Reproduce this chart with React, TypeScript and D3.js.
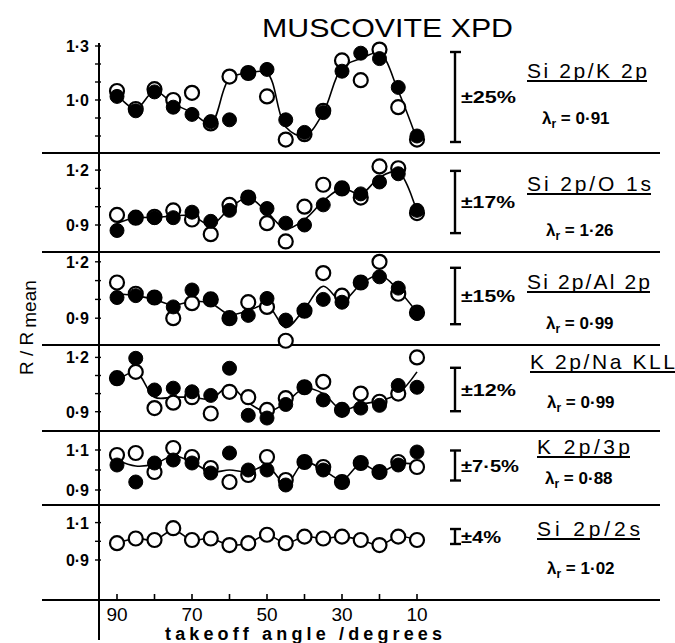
import React from "react";
import * as d3 from "d3";

const ANGLES = [90, 85, 80, 75, 70, 65, 60, 55, 50, 45, 40, 35, 30, 25, 20, 15, 10];
const X_TICKS = [90, 80, 70, 60, 50, 40, 30, 20, 10];
const X_LABELS = [90, 70, 50, 30, 10];

const P1_FILLED = [1.02, 0.94, 1.045, 0.96, 0.92, 0.88, 0.89, 1.15, 1.17, 0.89, 0.82, 0.93, 1.16, 1.26, 1.23, 1.07, 0.8];
const P1_OPEN = [1.05, 0.95, 1.06, 1.0, 1.04, 0.87, 1.13, 1.15, 1.02, 0.78, 0.81, 0.94, 1.22, 1.11, 1.28, 0.96, 0.78];
const P1_LINE = [1.03, 0.95, 1.05, 0.98, 0.93, 0.87, 1.12, 1.15, 1.15, 0.85, 0.8, 0.93, 1.18, 1.23, 1.26, 1.05, 0.78];

const P2_FILLED = [0.87, 0.94, 0.94, 0.94, 0.97, 0.92, 0.98, 1.05, 0.99, 0.91, 0.9, 1.01, 1.1, 1.07, 1.135, 1.18, 0.98];
const P2_OPEN = [0.955, 0.94, 0.945, 0.98, 0.93, 0.85, 1.01, 1.05, 0.91, 0.81, 1.0, 1.12, 1.1, 1.05, 1.22, 1.21, 0.965];
const P2_LINE = [0.91, 0.94, 0.94, 0.95, 0.95, 0.9, 0.99, 1.05, 0.97, 0.88, 0.93, 1.03, 1.1, 1.07, 1.16, 1.19, 0.97];

const P3_FILLED = [1.01, 1.02, 1.01, 0.96, 1.05, 1.0, 0.9, 0.915, 1.005, 0.89, 0.94, 1.0, 0.985, 1.09, 1.12, 1.06, 0.925];
const P3_OPEN = [1.09, 1.03, 1.01, 0.9, 0.98, 1.0, 0.9, 0.985, 0.96, 0.78, 0.94, 1.14, 1.02, 1.09, 1.2, 1.03, 0.93];
const P3_LINE = [1.03, 1.02, 1.0, 0.97, 0.99, 0.98, 0.92, 0.94, 0.97, 0.85, 0.95, 1.07, 0.99, 1.08, 1.13, 1.05, 0.93];

const P4_FILLED = [1.085, 1.195, 1.02, 1.03, 1.01, 0.99, 1.14, 0.88, 0.865, 0.94, 1.035, 0.965, 0.91, 0.92, 0.935, 1.045, 1.035];
const P4_OPEN = [1.085, 1.12, 0.92, 0.95, 0.98, 0.89, 1.01, 0.98, 0.91, 0.975, 1.035, 1.065, 0.91, 1.0, 0.955, 1.0, 1.2];
const P4_LINE = [1.07, 1.12, 0.98, 0.98, 0.98, 0.97, 1.04, 0.95, 0.9, 0.95, 1.03, 1.0, 0.91, 0.94, 0.96, 1.0, 1.12];

const P5_FILLED = [1.025, 0.94, 1.035, 1.05, 1.035, 0.985, 1.085, 1.0, 1.0, 0.925, 1.04, 1.0, 0.94, 1.035, 0.99, 1.025, 1.09];
const P5_OPEN = [1.075, 1.085, 0.99, 1.11, 1.065, 1.01, 0.94, 0.975, 1.065, 0.95, 1.04, 1.015, 0.94, 1.035, 0.99, 1.04, 1.015];
const P5_LINE = [1.05, 1.02, 1.03, 1.07, 1.04, 0.99, 1.0, 0.99, 1.02, 0.93, 1.04, 1.0, 0.95, 1.03, 0.99, 1.03, 1.03];

const P6_OPEN = [0.99, 1.015, 1.007, 1.07, 1.007, 1.015, 0.98, 0.99, 1.035, 0.99, 1.025, 1.015, 1.025, 1.007, 0.98, 1.025, 1.007];
const P6_LINE = [0.99, 1.015, 1.007, 1.06, 1.007, 1.015, 0.98, 0.99, 1.035, 0.99, 1.025, 1.015, 1.025, 1.007, 0.98, 1.025, 1.007];

const RATIO_LABELS = ["Si 2p/K 2p", "Si 2p/O 1s", "Si 2p/Al 2p", "K 2p/Na KLL", "K 2p/3p", "Si 2p/2s"];
const LAMBDA_VALUES = ["0·91", "1·26", "0·99", "0·99", "0·88", "1·02"];
const ERROR_PCT = [25, 17, 15, 12, 7.5, 4];
const ERROR_LABELS = ["±25%", "±17%", "±15%", "±12%", "±7·5%", "±4%"];
const Y_TICK_LABELS = [[1.3, 1.0], [1.2, 0.9], [1.2, 0.9], [1.2, 0.9], [1.1, 0.9], [1.1, 0.9]];

// layout per panel (pixel y of value 1.0, px per unit, text placement)
const LAYOUT = [
  { y1: 100, k: 180, bottom: 153, minor: [0.8, 0.9, 1.0, 1.1, 1.2, 1.3], labY: 72, lamY: 118, labX: 527, labW: 120, lamX: 542, errY: 97, errW: 55 },
  { y1: 206.7, k: 183, bottom: 252, minor: [0.9, 1.0, 1.1, 1.2], labY: 185, lamY: 230, labX: 527, labW: 124, lamX: 546, errY: 202, errW: 54 },
  { y1: 299.4, k: 188, bottom: 345, minor: [0.9, 1.0, 1.1, 1.2], labY: 283, lamY: 323, labX: 527, labW: 123, lamX: 546, errY: 296, errW: 54 },
  { y1: 393.6, k: 181, bottom: 431, minor: [0.9, 1.0, 1.1, 1.2], labY: 363, lamY: 402, labX: 530, labW: 145, lamX: 547, errY: 389.5, errW: 55 },
  { y1: 470, k: 200, bottom: 505, minor: [0.9, 1.0, 1.1], labY: 448, lamY: 478, labX: 537, labW: 93, lamX: 545, errY: 465.5, errW: 58 },
  { y1: 541.3, k: 187, bottom: 600, minor: [0.9, 1.0, 1.1], labY: 530, lamY: 568, labX: 537, labW: 103, lamX: 547, errY: 536.5, errW: 40 },
];

const PANELS = [
  { filled: P1_FILLED, open: P1_OPEN, line: P1_LINE },
  { filled: P2_FILLED, open: P2_OPEN, line: P2_LINE },
  { filled: P3_FILLED, open: P3_OPEN, line: P3_LINE },
  { filled: P4_FILLED, open: P4_OPEN, line: P4_LINE },
  { filled: P5_FILLED, open: P5_OPEN, line: P5_LINE },
  { filled: null as number[] | null, open: P6_OPEN, line: P6_LINE },
];

const FONT = "'Liberation Sans', Arial, sans-serif";
const AXIS_X = 99;

const fmt = (v: number) => v.toFixed(1).replace(".", "·");

export default function App() {
  const x = d3.scaleLinear().domain([90, 10]).range([117, 417]);
  const R = 7;

  return (
    <svg width={675} height={643} viewBox="0 0 675 643"
      style={{ position: "absolute", left: 0, top: 0, background: "#fff" }}
      fontFamily={FONT}>
      <rect x={0} y={0} width={675} height={643} fill="#fff" />
      <text x={262} y={37} fontSize={26} textLength={251} lengthAdjust="spacingAndGlyphs" fill="#000">MUSCOVITE  XPD</text>

      <line x1={AXIS_X} x2={AXIS_X} y1={43} y2={640} stroke="#000" strokeWidth={2} />

      {LAYOUT.map((L, i) => (
        <line key={"sep" + i} x1={42} x2={660} y1={L.bottom} y2={L.bottom} stroke="#000" strokeWidth={1.8} />
      ))}

      {PANELS.map((P, i) => {
        const L = LAYOUT[i];
        const y = d3.scaleLinear().domain([0, 2]).range([L.y1 + L.k, L.y1 - L.k]);
        const lineGen = d3.line<number>()
          .x((_, j) => x(ANGLES[j]))
          .y((v) => y(v))
          .curve(d3.curveCatmullRom.alpha(0.5));
        const halfBar = (ERROR_PCT[i] / 100) * L.k;
        return (
          <g key={"p" + i}>
            {L.minor.map((t) => (
              <line key={"mt" + t} x1={AXIS_X - 4} x2={AXIS_X + 2} y1={y(t)} y2={y(t)} stroke="#000" strokeWidth={1.4} />
            ))}
            {Y_TICK_LABELS[i].map((t) => (
              <text key={"tl" + t} x={89} y={y(t) + 6} fontSize={16} fontWeight="bold" textAnchor="end" fill="#000">{fmt(t)}</text>
            ))}
            <path d={lineGen(P.line) || ""} fill="none" stroke="#000" strokeWidth={1.6} />
            {P.open.map((v, j) => (
              <circle key={"o" + j} cx={x(ANGLES[j])} cy={y(v)} r={R} fill="#fff" stroke="#000" strokeWidth={2.2} />
            ))}
            {P.filled && P.filled.map((v, j) => (
              <circle key={"f" + j} cx={x(ANGLES[j])} cy={y(v)} r={R} fill="#000" stroke="#000" strokeWidth={1} />
            ))}
            <g stroke="#000" strokeWidth={2.4}>
              <line x1={455} x2={455} y1={L.errY - halfBar} y2={L.errY + halfBar} />
              <line x1={450} x2={461} y1={L.errY - halfBar} y2={L.errY - halfBar} />
              <line x1={450} x2={461} y1={L.errY + halfBar} y2={L.errY + halfBar} />
            </g>
            <text x={461} y={L.errY + 6} fontSize={16} fontWeight="bold" textLength={L.errW} lengthAdjust="spacingAndGlyphs" fill="#000">{ERROR_LABELS[i]}</text>
            <text x={L.labX} y={L.labY + 6} fontSize={21} textLength={L.labW} lengthAdjust="spacing" fill="#000">{RATIO_LABELS[i]}</text>
            <line x1={L.labX} x2={L.labX + L.labW} y1={L.labY + 9} y2={L.labY + 9} stroke="#000" strokeWidth={1.8} />
            <text x={L.lamX} y={L.lamY + 6} fontSize={17} fontWeight="bold" fill="#000">
              λ<tspan fontSize={12} dy={4}>r</tspan><tspan dy={-4}> = {LAMBDA_VALUES[i]}</tspan>
            </text>
          </g>
        );
      })}

      {X_TICKS.map((t) => (
        <line key={"xt" + t} x1={x(t)} x2={x(t)} y1={600} y2={594} stroke="#000" strokeWidth={1.6} />
      ))}
      {X_LABELS.map((t) => (
        <text key={"xl" + t} x={x(t)} y={621} fontSize={19} textAnchor="middle" fill="#000">{t}</text>
      ))}
      <text x={165} y={640} fontSize={18} fontWeight="bold" textLength={277} lengthAdjust="spacing" fill="#000">takeoff angle /degrees</text>

      <text transform="translate(33,375) rotate(-90)" fontSize={19} fill="#000">
        R / R<tspan dx={4} dy={3} fontSize={19}>mean</tspan>
      </text>
    </svg>
  );
}
